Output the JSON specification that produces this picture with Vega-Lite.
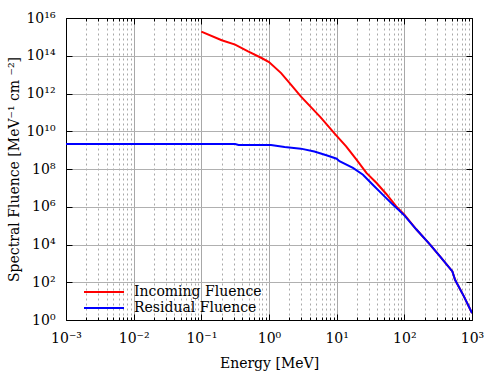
{
  "$schema": "https://vega.github.io/schema/vega-lite/v6.json",
  "width": 406,
  "height": 302,
  "autosize": {"type": "none"},
  "padding": {"left": 66, "top": 18, "right": 28, "bottom": 55},
  "background": "white",
  "config": {
    "view": {"stroke": "black", "strokeWidth": 1},
    "font": "DejaVu Serif"
  },
  "data": {
    "values": [
      {"series": "Incoming Fluence", "energy": 0.1, "fluence": 1.9e15},
      {"series": "Incoming Fluence", "energy": 0.2, "fluence": 6.6e14},
      {"series": "Incoming Fluence", "energy": 0.316, "fluence": 3.9e14},
      {"series": "Incoming Fluence", "energy": 0.49, "fluence": 1.7e14},
      {"series": "Incoming Fluence", "energy": 0.776, "fluence": 7.6e13},
      {"series": "Incoming Fluence", "energy": 1.0, "fluence": 4.6e13},
      {"series": "Incoming Fluence", "energy": 1.51, "fluence": 1.2e13},
      {"series": "Incoming Fluence", "energy": 2.14, "fluence": 2.8e12},
      {"series": "Incoming Fluence", "energy": 2.95, "fluence": 7.0e11},
      {"series": "Incoming Fluence", "energy": 4.17, "fluence": 1.9e11},
      {"series": "Incoming Fluence", "energy": 5.75, "fluence": 5.6e10},
      {"series": "Incoming Fluence", "energy": 9.77, "fluence": 6.3e9},
      {"series": "Incoming Fluence", "energy": 13.8, "fluence": 1.6e9},
      {"series": "Incoming Fluence", "energy": 19.5, "fluence": 3.2e8},
      {"series": "Incoming Fluence", "energy": 27.5, "fluence": 6.2e7},
      {"series": "Incoming Fluence", "energy": 38.9, "fluence": 1.8e7},
      {"series": "Incoming Fluence", "energy": 53.7, "fluence": 4.9e6},
      {"series": "Incoming Fluence", "energy": 75.9, "fluence": 1.05e6},
      {"series": "Incoming Fluence", "energy": 100, "fluence": 3.8e5},
      {"series": "Incoming Fluence", "energy": 151, "fluence": 6.2e4},
      {"series": "Incoming Fluence", "energy": 240, "fluence": 9.8e3},
      {"series": "Incoming Fluence", "energy": 339, "fluence": 2.3e3},
      {"series": "Incoming Fluence", "energy": 513, "fluence": 372},
      {"series": "Incoming Fluence", "energy": 562, "fluence": 135},
      {"series": "Incoming Fluence", "energy": 759, "fluence": 17.8},
      {"series": "Incoming Fluence", "energy": 1000, "fluence": 2.3},
      {"series": "Residual Fluence", "energy": 0.001, "fluence": 2.1e9},
      {"series": "Residual Fluence", "energy": 0.316, "fluence": 2.1e9},
      {"series": "Residual Fluence", "energy": 0.355, "fluence": 1.86e9},
      {"series": "Residual Fluence", "energy": 1.07, "fluence": 1.86e9},
      {"series": "Residual Fluence", "energy": 1.7, "fluence": 1.45e9},
      {"series": "Residual Fluence", "energy": 2.95, "fluence": 1.2e9},
      {"series": "Residual Fluence", "energy": 4.68, "fluence": 8.5e8},
      {"series": "Residual Fluence", "energy": 7.24, "fluence": 5.2e8},
      {"series": "Residual Fluence", "energy": 10, "fluence": 3.5e8},
      {"series": "Residual Fluence", "energy": 11, "fluence": 2.6e8},
      {"series": "Residual Fluence", "energy": 17.4, "fluence": 1.15e8},
      {"series": "Residual Fluence", "energy": 24.5, "fluence": 5.0e7},
      {"series": "Residual Fluence", "energy": 33.9, "fluence": 1.5e7},
      {"series": "Residual Fluence", "energy": 47.9, "fluence": 4.4e6},
      {"series": "Residual Fluence", "energy": 67.6, "fluence": 1.3e6},
      {"series": "Residual Fluence", "energy": 100, "fluence": 3.5e5},
      {"series": "Residual Fluence", "energy": 151, "fluence": 6.2e4},
      {"series": "Residual Fluence", "energy": 240, "fluence": 9.8e3},
      {"series": "Residual Fluence", "energy": 339, "fluence": 2.3e3},
      {"series": "Residual Fluence", "energy": 513, "fluence": 372},
      {"series": "Residual Fluence", "energy": 562, "fluence": 135},
      {"series": "Residual Fluence", "energy": 759, "fluence": 17.8},
      {"series": "Residual Fluence", "energy": 1000, "fluence": 2.3}
    ]
  },
  "resolve": {"axis": {"x": "independent", "y": "independent"}},
  "layer": [
    {
      "mark": {"type": "line", "strokeWidth": 2, "clip": true},
      "encoding": {
        "x": {
          "field": "energy",
          "type": "quantitative",
          "scale": {"type": "log", "domain": [0.001, 1000], "nice": false},
          "axis": {
            "orient": "bottom",
            "values": [0.001,0.002,0.003,0.004,0.005,0.006,0.007,0.008,0.009,0.01,0.02,0.03,0.04,0.05,0.06,0.07,0.08,0.09,0.1,0.2,0.3,0.4,0.5,0.6,0.7,0.8,0.9,1,2,3,4,5,6,7,8,9,10,20,30,40,50,60,70,80,90,100,200,300,400,500,600,700,800,900,1000],
            "grid": true,
            "gridColor": "#a8a8a8",
            "gridWidth": 1,
            "gridDash": {"condition": {"test": "abs(log(datum.value)/LN10 - round(log(datum.value)/LN10)) < 0.001", "value": []}, "value": [2, 3]},
            "tickSize": {"condition": {"test": "abs(log(datum.value)/LN10 - round(log(datum.value)/LN10)) < 0.001", "value": -6}, "value": -3},
            "tickColor": "black",
            "domainColor": "black",
            "labelExpr": "abs(log(datum.value)/LN10 - round(log(datum.value)/LN10)) < 0.001 ? '10' + ['⁻³','⁻²','⁻¹','⁰','¹','²','³'][round(log(datum.value)/LN10) + 3] : ''",
            "labelFlush": false,
            "labelOverlap": false,
            "labelFont": "DejaVu Serif",
            "labelFontSize": 14,
            "labelColor": "black",
            "labelPadding": 17,
            "title": "Energy [MeV]",
            "titleFont": "DejaVu Serif",
            "titleFontSize": 14,
            "titleFontWeight": "normal",
            "titleColor": "black",
            "titlePadding": 8
          }
        },
        "y": {
          "field": "fluence",
          "type": "quantitative",
          "scale": {"type": "log", "domain": [1, 1e16], "nice": false},
          "axis": {
            "orient": "left",
            "values": [1, 1e2, 1e4, 1e6, 1e8, 1e10, 1e12, 1e14, 1e16],
            "grid": true,
            "gridColor": "#b0b0b0",
            "gridWidth": 1,
            "tickSize": -6,
            "tickColor": "black",
            "domainColor": "black",
            "labelExpr": "'10' + ['⁰','²','⁴','⁶','⁸','¹⁰','¹²','¹⁴','¹⁶'][round(round(log(datum.value)/LN10)/2)]",
            "labelOverlap": false,
            "labelFont": "DejaVu Serif",
            "labelFontSize": 14,
            "labelColor": "black",
            "labelPadding": 17,
            "title": "Spectral Fluence [MeV⁻¹ cm ⁻²]",
            "titleFont": "DejaVu Serif",
            "titleFontSize": 14,
            "titleFontWeight": "normal",
            "titleColor": "black",
            "titlePadding": 4
          }
        },
        "color": {
          "field": "series",
          "type": "nominal",
          "scale": {"domain": ["Incoming Fluence", "Residual Fluence"], "range": ["#ff0000", "#0000ff"]},
          "legend": {
            "title": null,
            "orient": "none",
            "legendX": 16,
            "legendY": 267,
            "padding": 0,
            "symbolType": "M-1,0H7",
            "symbolSize": 100,
            "symbolStrokeWidth": 2,
            "labelOffset": 38,
            "labelFont": "DejaVu Serif",
            "labelFontSize": 14,
            "labelColor": "black",
            "rowPadding": 2
          }
        }
      }
    },
    {
      "mark": {"type": "line", "opacity": 0},
      "encoding": {
        "x": {
          "field": "energy",
          "type": "quantitative",
          "scale": {"type": "log", "domain": [0.001, 1000], "nice": false},
          "axis": {
            "orient": "top",
            "values": [0.001,0.002,0.003,0.004,0.005,0.006,0.007,0.008,0.009,0.01,0.02,0.03,0.04,0.05,0.06,0.07,0.08,0.09,0.1,0.2,0.3,0.4,0.5,0.6,0.7,0.8,0.9,1,2,3,4,5,6,7,8,9,10,20,30,40,50,60,70,80,90,100,200,300,400,500,600,700,800,900,1000],
            "grid": false,
            "labels": false,
            "title": null,
            "tickSize": {"condition": {"test": "abs(log(datum.value)/LN10 - round(log(datum.value)/LN10)) < 0.001", "value": -6}, "value": -3},
            "tickColor": "black",
            "domainColor": "black"
          }
        },
        "y": {
          "field": "fluence",
          "type": "quantitative",
          "scale": {"type": "log", "domain": [1, 1e16], "nice": false},
          "axis": {
            "orient": "right",
            "values": [1, 1e2, 1e4, 1e6, 1e8, 1e10, 1e12, 1e14, 1e16],
            "grid": false,
            "labels": false,
            "title": null,
            "tickSize": -6,
            "tickColor": "black",
            "domainColor": "black"
          }
        }
      }
    }
  ]
}
